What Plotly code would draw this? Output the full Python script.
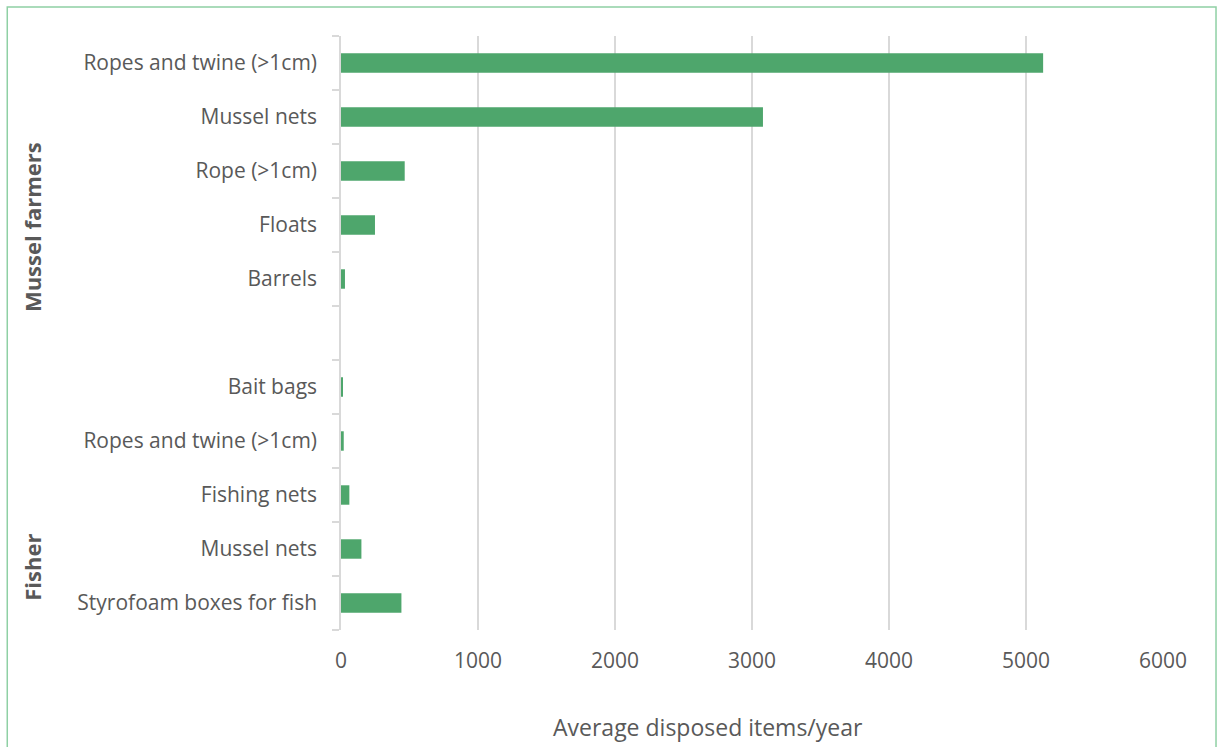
import plotly.graph_objects as go

# Items per group, listed top to bottom
groups = ["Mussel farmers", "Fisher"]
mussel_items = ["Ropes and twine (>1cm)", "Mussel nets", "Rope (>1cm)", "Floats", "Barrels"]
mussel_values = [5125, 3080, 465, 248, 29]
fisher_items = ["Bait bags", "Ropes and twine (>1cm)", "Fishing nets", "Mussel nets", "Styrofoam boxes for fish"]
fisher_values = [10, 20, 61, 149, 441]
x_ticks = [0, 1000, 2000, 3000, 4000, 5000, 6000]
x_title = "Average disposed items/year"

# Slot positions: one blank slot between the two groups
labels = mussel_items + [""] + fisher_items
values = mussel_values + [None] + fisher_values
positions = list(range(len(labels)))

BAR = "#4ea66c"
GRID = "#d9d9d9"
TEXT = "#595959"
FONT = "Open Sans"

fig = go.Figure(
    go.Bar(
        x=values,
        y=positions,
        orientation="h",
        width=0.36,
        marker=dict(color=BAR, line=dict(width=0)),
        hoverinfo="x+text",
        text=labels,
        textposition="none",
    )
)

fig.update_layout(
    width=1217,
    height=747,
    margin=dict(l=341, r=54, t=36, b=117),
    paper_bgcolor="white",
    plot_bgcolor="white",
    showlegend=False,
    font=dict(family=FONT, color=TEXT, size=21),
    xaxis=dict(
        range=[0, 6000],
        tickvals=x_ticks,
        ticktext=[str(v) for v in x_ticks],
        showgrid=True,
        gridcolor=GRID,
        gridwidth=1.5,
        zeroline=False,
        showline=False,
        ticks="",
        tickfont=dict(size=21, color=TEXT),
        ticklabelstandoff=16,
    ),
    yaxis=dict(
        range=[len(labels) - 0.5, -0.5],
        tickvals=positions,
        ticktext=labels,
        showgrid=False,
        zeroline=False,
        showline=True,
        linecolor=GRID,
        linewidth=1.5,
        ticks="",
        tickfont=dict(size=21, color=TEXT),
        ticklabelstandoff=18,
        minor=dict(tick0=0.5, dtick=1, ticks="outside", ticklen=7,
                   tickcolor=GRID, tickwidth=1.5, showgrid=False),
    ),
)

# X axis title, set slightly left of the plot centre
fig.add_annotation(
    text=x_title,
    xref="paper", yref="paper",
    x=0.446, y=-0.163,
    xanchor="center", yanchor="middle",
    showarrow=False,
    font=dict(size=23, color=TEXT, family=FONT),
)

# Rotated group labels at the far left
group_y = [3.04, 9.33]
for name, gy in zip(groups, group_y):
    fig.add_annotation(
        text=f"<b>{name}</b>",
        xref="paper", yref="y",
        x=-0.376, y=gy,
        xanchor="center", yanchor="middle",
        textangle=-90,
        showarrow=False,
        font=dict(size=22, color=TEXT, family=FONT),
    )

# Thin green frame around the chart area
fig.add_shape(
    type="rect", xref="paper", yref="paper",
    x0=-0.406, x1=1.0645, y0=-0.25, y1=1.0489,
    line=dict(color="#8fd0a4", width=1.5),
    fillcolor="rgba(0,0,0,0)",
    layer="below",
)

fig.write_html("out.html")
